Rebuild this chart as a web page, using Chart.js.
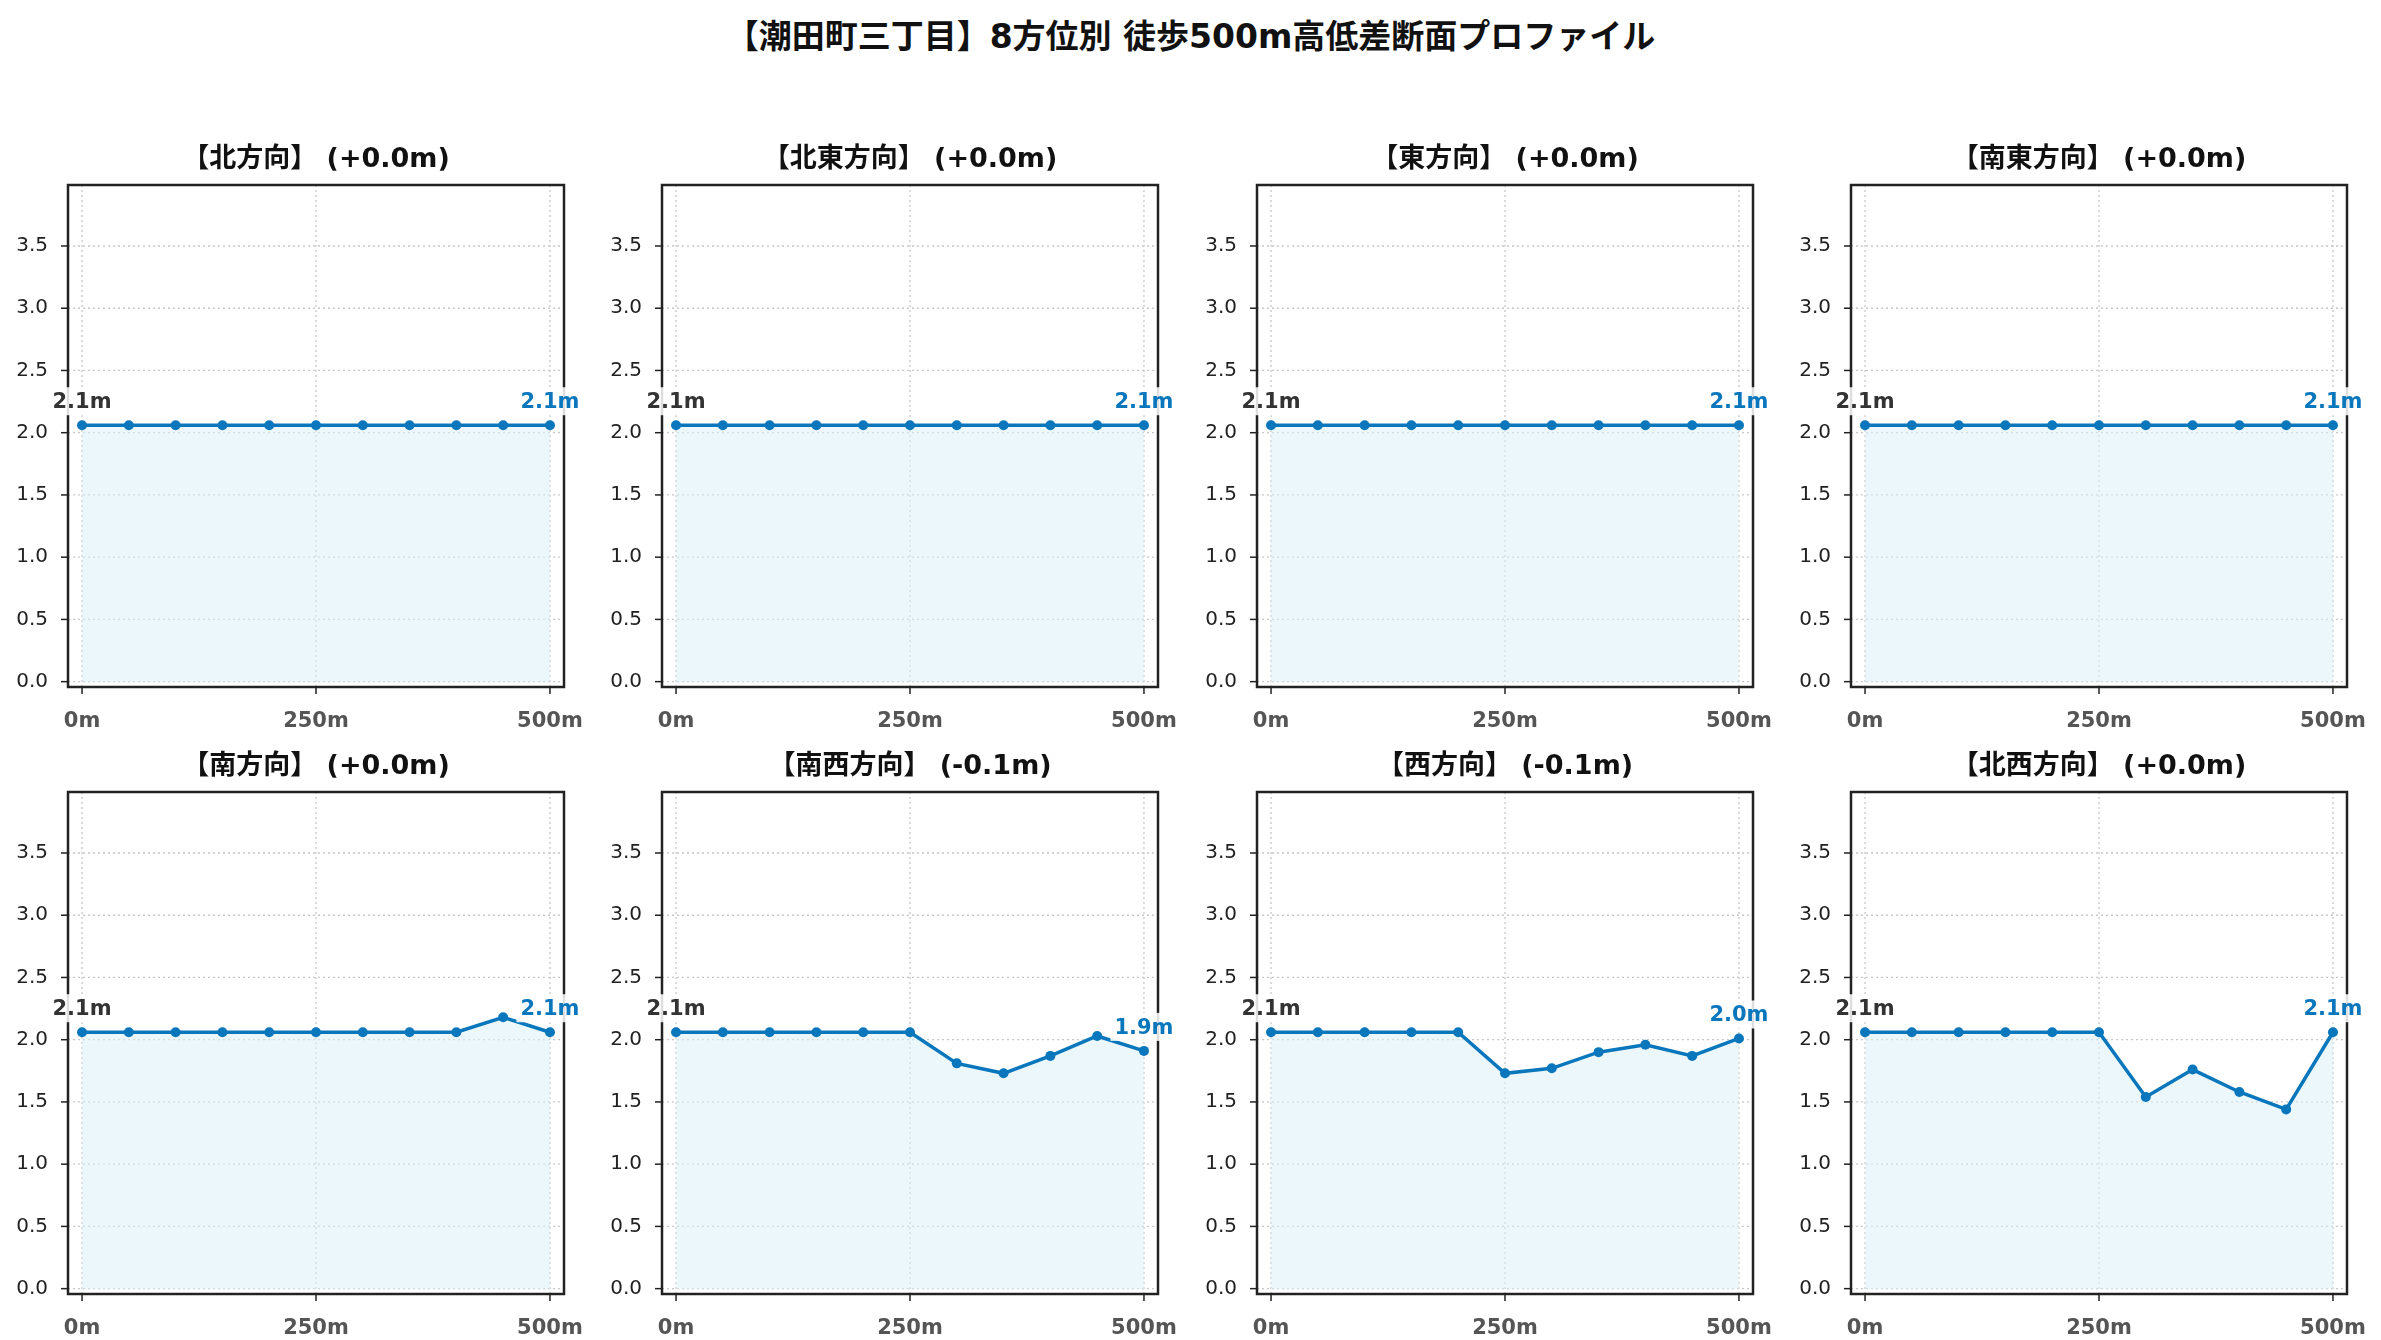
<!DOCTYPE html>
<html><head><meta charset="utf-8">
<script src="https://cdn.jsdelivr.net/npm/chart.js@4"></script>
<style>
body{margin:0;width:2381px;height:1340px;background:#fff;position:relative;overflow:hidden;font-family:"DejaVu Sans","Noto Sans CJK JP",sans-serif}
#t{position:absolute;top:10px;left:0;width:2381px;text-align:center;font-weight:bold;font-size:33px;color:#111}
.c{position:absolute}
</style></head><body>
<div id="t">【潮田町三丁目】8方位別 徒歩500m高低差断面プロファイル</div>
<script>
const distances=[0,50,100,150,200,250,300,350,400,450,500];
const titles=["【北方向】 (+0.0m)","【北東方向】 (+0.0m)","【東方向】 (+0.0m)","【南東方向】 (+0.0m)","【南方向】 (+0.0m)","【南西方向】 (-0.1m)","【西方向】 (-0.1m)","【北西方向】 (+0.0m)"];
const north=[2.06,2.06,2.06,2.06,2.06,2.06,2.06,2.06,2.06,2.06,2.06];
const northeast=[2.06,2.06,2.06,2.06,2.06,2.06,2.06,2.06,2.06,2.06,2.06];
const east=[2.06,2.06,2.06,2.06,2.06,2.06,2.06,2.06,2.06,2.06,2.06];
const southeast=[2.06,2.06,2.06,2.06,2.06,2.06,2.06,2.06,2.06,2.06,2.06];
const south=[2.06,2.06,2.06,2.06,2.06,2.06,2.06,2.06,2.06,2.18,2.06];
const southwest=[2.06,2.06,2.06,2.06,2.06,2.06,1.81,1.73,1.87,2.03,1.91];
const west=[2.06,2.06,2.06,2.06,2.06,1.73,1.77,1.90,1.96,1.87,2.01];
const northwest=[2.06,2.06,2.06,2.06,2.06,2.06,1.54,1.76,1.58,1.44,2.06];
const series=[north,northeast,east,southeast,south,southwest,west,northwest];
const yTicks=[0,0.5,1,1.5,2,2.5,3,3.5];
const xTicks=[0,250,500];
const LINE='#0a77bd';
const PL=68,PT=80,PR=40,PB=50,PW=496,PH=502;
const lefts=[68,662,1257,1851], tops=[185,792];
const deco={id:'deco',
 afterDraw(ch){const c=ch.ctx,a=ch.chartArea,x=ch.scales.x,y=ch.scales.y;
  c.save();
  c.font='bold 27px "DejaVu Sans","Noto Sans CJK JP"';c.fillStyle='#111';c.textAlign='center';c.textBaseline='alphabetic';
  c.fillText(ch.options.plugins.ttl,(a.left+a.right)/2,a.top-18);
  c.strokeStyle='#222';c.lineWidth=2.5;c.strokeRect(a.left,a.top,a.right-a.left,a.bottom-a.top);
  c.lineWidth=1.5;
  yTicks.forEach(v=>{const p=y.getPixelForValue(v);c.beginPath();c.moveTo(a.left-7,p);c.lineTo(a.left,p);c.stroke();});
  xTicks.forEach(v=>{const p=x.getPixelForValue(v);c.beginPath();c.moveTo(p,a.bottom);c.lineTo(p,a.bottom+7);c.stroke();});
  const d=ch.data.datasets[0].data;
  const f=d[0],l=d[d.length-1];
  c.font='bold 21px "DejaVu Sans"';c.textBaseline='bottom';
  const drawLbl=(pt,col)=>{const px=x.getPixelForValue(pt.x),py=y.getPixelForValue(pt.y)-12;const t=pt.y.toFixed(1)+'m';const w=c.measureText(t).width;
   c.fillStyle='rgba(255,255,255,0.85)';c.fillRect(px-w/2-4,py-26,w+8,28);c.fillStyle=col;c.fillText(t,px,py);};
  drawLbl(f,'#333');drawLbl(l,LINE);
  c.restore();},
 beforeDatasetsDraw(ch){const c=ch.ctx,a=ch.chartArea,x=ch.scales.x,y=ch.scales.y;
  c.save();c.strokeStyle='#c8c8c8';c.lineWidth=1.3;c.setLineDash([2,3]);
  yTicks.forEach(v=>{const p=y.getPixelForValue(v);c.beginPath();c.moveTo(a.left,p);c.lineTo(a.right,p);c.stroke();});
  xTicks.forEach(v=>{const p=x.getPixelForValue(v);c.beginPath();c.moveTo(p,a.top);c.lineTo(p,a.bottom);c.stroke();});
  c.restore();}};
series.forEach((s,i)=>{
 const cv=document.createElement('canvas');
 const L=lefts[i%4]-PL,T=tops[Math.floor(i/4)]-PT,W=PL+PW+PR,H=PT+PH+PB;
 const dv=document.createElement('div');dv.className='c';dv.style.left=L+'px';dv.style.top=T+'px';dv.style.width=W+'px';dv.style.height=H+'px';
 dv.appendChild(cv);document.body.appendChild(dv);
 new Chart(cv,{type:'line',data:{datasets:[{data:distances.map((d,k)=>({x:d,y:s[k]})),borderColor:LINE,backgroundColor:'rgba(220,240,250,0.55)',fill:'origin',borderWidth:3.5,pointRadius:5,pointBackgroundColor:LINE,pointBorderWidth:0,tension:0,clip:false}]},
 options:{responsive:true,maintainAspectRatio:false,animation:false,devicePixelRatio:1,
  layout:{padding:{top:PT,right:PR,left:0,bottom:0}},
  plugins:{legend:{display:false},tooltip:{enabled:false},ttl:titles[i]},
  scales:{
   x:{type:'linear',min:-15,max:515,grid:{display:false},border:{display:false},
    afterBuildTicks(sc){sc.ticks=xTicks.map(v=>({value:v}));},afterFit(sc){sc.height=PB;},
    ticks:{padding:14,color:'#555',font:{size:21,weight:'bold',family:'DejaVu Sans'},callback:v=>v+'m',maxRotation:0}},
   y:{type:'linear',min:-0.043,max:3.99,grid:{display:false},border:{display:false},
    afterBuildTicks(sc){sc.ticks=yTicks.map(v=>({value:v}));},afterFit(sc){sc.width=PL;},
    ticks:{padding:12,color:'#222',font:{size:20,family:'DejaVu Sans'},callback:v=>v.toFixed(1)}}}},
 plugins:[deco]});
});
</script></body></html>
